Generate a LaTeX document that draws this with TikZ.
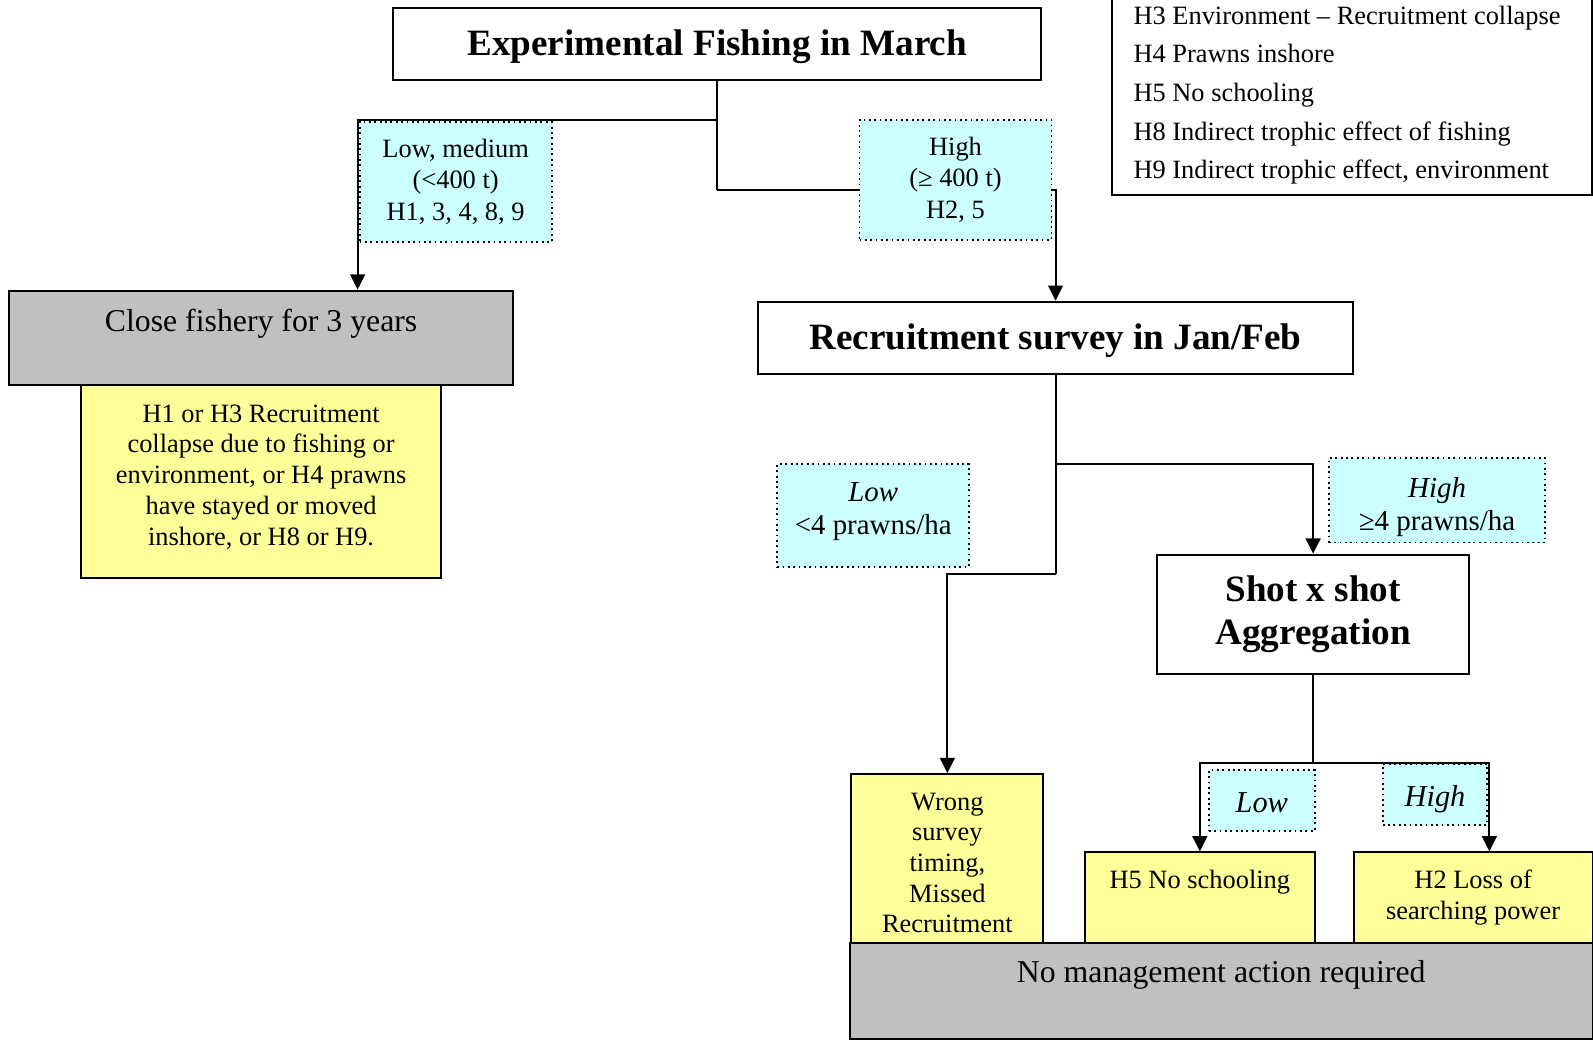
\documentclass[tikz,border=0pt]{standalone}
\usepackage{fontspec}
\setmainfont{Liberation Serif}
\usetikzlibrary{arrows.meta}
\definecolor{lblcyan}{RGB}{204,255,255}
\definecolor{hypyellow}{RGB}{255,255,153}
\definecolor{actgray}{RGB}{192,192,192}

\begin{document}
\begin{tikzpicture}[
    every node/.style={inner sep=0pt, align=center},
    oneline/.style={text height=.7em, text depth=.04em},
    title/.style={draw, line width=.55pt, fill=white, font=\fontsize{10.4}{11.9}\selectfont\bfseries},
    hyp/.style={draw, line width=.55pt, fill=hypyellow},
    act/.style={draw, line width=.55pt, fill=actgray},
    lbl/.style={draw, densely dotted, line width=.5pt, fill=lblcyan, font=\fontsize{7.4}{8.7}\selectfont},
    txt/.style={font=\fontsize{7.4}{8.6}\selectfont},
    bigtxt/.style={font=\fontsize{8.9}{10.5}\selectfont},
    link/.style={line width=.6pt},
    arr/.style={link, -{Triangle[length=1.5mm, width=1.45mm]}}
]
\useasboundingbox (0,0) rectangle (15.68,-10.26);

% key to the hypotheses
\foreach \t [count=\i] in {H3 Environment – Recruitment collapse, H4 Prawns inshore,
    H5 No schooling, H8 Indirect trophic effect of fishing, {H9 Indirect trophic effect, environment}}
  \node[txt, anchor=base west] (key\i) at (11.15,{-.237-.381*(\i-1)}) {\t};
\draw[line width=.55pt] (10.95,0) |- (15.67,-1.915) -- (15.67,0);

% boxes
\node[title, oneline, minimum width=6.38cm, minimum height=.71cm] (exp) at (7.06,-.435) {Experimental Fishing in March};
\node[act, minimum width=4.96cm, minimum height=.93cm] (close) at (2.57,-3.325) {};
\node[bigtxt, anchor=base] (closetxt) at (2.57,-3.26) {Close fishery for 3 years};
\node[hyp, minimum width=3.54cm, minimum height=1.9cm] (collapse) at (2.57,-4.74) {};
\node[txt] (collapsetxt) at (2.57,-4.695) {H1 or H3 Recruitment\\collapse due to fishing or\\environment, or H4 prawns\\have stayed or moved\\inshore, or H8 or H9.};
\node[title, oneline, minimum width=5.86cm, minimum height=.71cm] (recr) at (10.39,-3.325) {Recruitment survey in Jan/Feb};
\node[title, minimum width=3.07cm, minimum height=1.17cm] (shot) at (12.925,-6.045) {Shot x shot\\Aggregation};
\node[act, minimum width=7.31cm, minimum height=.95cm] (nomgmt) at (12.02,-9.755) {};
\node[bigtxt, anchor=base] (nomgmttxt) at (12.02,-9.675) {No management action required};
\node[hyp, minimum width=1.89cm, minimum height=1.66cm] (wrong) at (9.325,-8.45) {};
\node[txt] (wrongtxt) at (9.325,-8.495) {Wrong\\survey\\timing,\\Missed\\Recruitment};
\node[hyp, minimum width=2.26cm, minimum height=.89cm] (noschool) at (11.81,-8.835) {};
\node[txt, anchor=base] (noschooltxt) at (11.81,-8.75) {H5 No schooling};
\node[hyp, txt, minimum width=2.35cm, minimum height=.89cm] (search) at (14.5,-8.835) {H2 Loss of\\searching power};

% connectors
\coordinate (s1) at (7.06,-1.18);
\coordinate (s2) at (7.06,-1.87);
\coordinate (s3) at (10.39,-4.57);
\coordinate (s4) at (10.39,-5.65);
\coordinate (s5) at (12.925,-7.51);
\draw[link] (exp.south) -- (s2);
\draw[arr] (s1) -| (close.north -| 3.52,0);
\draw[arr] (s2) -| (recr.north);
\draw[link] (recr.south) -- (s4);
\draw[arr] (s3) -| (shot.north);
\draw[arr] (s4) -| (wrong.north);
\draw[link] (shot.south) -- (s5);
\draw[arr] (s5) -| (noschool.north);
\draw[arr] (s5) -| (search.north -| 14.66,0);

% branch labels
\node[lbl, minimum width=1.89cm, minimum height=1.18cm] (lowcatch) at (4.485,-1.79) {Low, medium\\(<400 t)\\H1, 3, 4, 8, 9};
\node[lbl, minimum width=1.89cm, minimum height=1.18cm] (highcatch) at (9.405,-1.77) {High\\(≥ 400 t)\\H2, 5};
\node[lbl, minimum width=1.89cm, minimum height=1.01cm] (lowrecr) at (8.595,-5.075) {};
\node[txt, font=\fontsize{8.1}{9.4}\selectfont] (lowrecrtxt) at (8.595,-5.035) {\textit{Low}\\<4 prawns/ha};
\node[lbl, minimum width=2.13cm, minimum height=.83cm] (highrecr) at (14.145,-4.925) {};
\node[txt, font=\fontsize{8.1}{9.4}\selectfont] (highrecrtxt) at (14.145,-4.99) {\textit{High}\\≥4 prawns/ha};
\node[lbl, oneline, minimum width=1.04cm, minimum height=.6cm, font=\fontsize{8.5}{10}\selectfont\itshape] (lowagg) at (12.42,-7.88) {Low};
\node[lbl, oneline, minimum width=1.03cm, minimum height=.6cm, font=\fontsize{8.5}{10}\selectfont\itshape] (highagg) at (14.125,-7.82) {High};
\end{tikzpicture}
\end{document}
